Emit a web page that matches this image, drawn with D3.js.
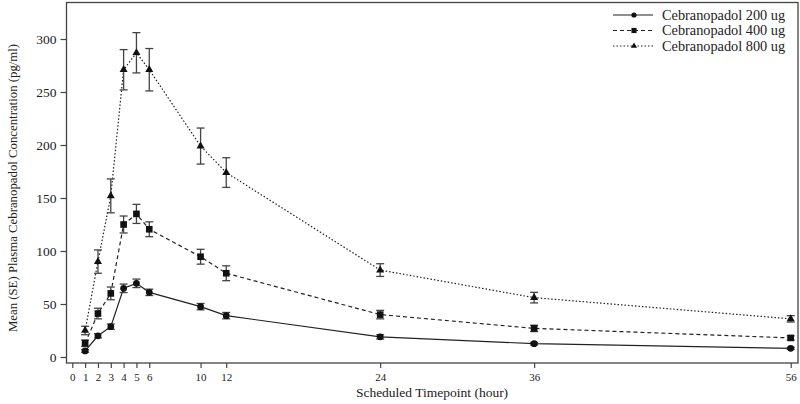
<!DOCTYPE html>
<html><head><meta charset="utf-8">
<script src="https://cdn.jsdelivr.net/npm/d3@7/dist/d3.min.js"></script>
<style>body{margin:0;background:#fff}svg{display:block}text{font-family:"Liberation Serif","Times New Roman",serif;fill:#222}</style>
</head><body><svg id="c" width="800" height="404"></svg>
<script>
const timepoints = [1, 2, 3, 4, 5, 6, 10, 12, 24, 36, 56];
const mean200 = [5.7, 20, 28.6, 64.8, 69.5, 61, 47.5, 39, 19, 12.6, 8.2];
const se200   = [1.2, 2, 2.5, 4, 4, 3, 3, 3, 2, 1.2, 1];
const mean400 = [13, 41, 60, 125, 135, 120.5, 94.6, 79, 40, 27, 18];
const se400   = [3, 5, 6, 8, 9, 7, 7, 7, 4, 3, 2];
const mean800 = [25, 90, 152, 271, 287, 271, 199, 174, 82, 56, 36];
const se800   = [4, 11, 16, 19, 19, 20, 17, 14, 6, 5, 3];
const seriesNames = ["Cebranopadol 200 ug", "Cebranopadol 400 ug", "Cebranopadol 800 ug"];
const xTicks = [0, 1, 2, 3, 4, 5, 6, 10, 12, 24, 36, 56];
const yTicks = [0, 50, 100, 150, 200, 250, 300];

const series = [
  {name: seriesNames[0], mean: mean200, se: se200, dash: null, sym: d3.symbolCircle, size: 36},
  {name: seriesNames[1], mean: mean400, se: se400, dash: "4,3", sym: d3.symbolSquare, size: 44},
  {name: seriesNames[2], mean: mean800, se: se800, dash: "1.5,2", sym: d3.symbolTriangle, size: 28}
];

const svg = d3.select("#c");
const frame = {l: 66.5, r: 798, t: 2.5, b: 363};
const x = d3.scaleLinear().domain([0, 56]).range([72.3, 790.7]);
const y = d3.scaleLinear().domain([0, 300]).range([357, 39]);

// frame
svg.append("rect").attr("x", frame.l).attr("y", frame.t)
  .attr("width", frame.r - frame.l).attr("height", frame.b - frame.t)
  .attr("fill", "none").attr("stroke", "#444").attr("stroke-width", 1.3);

// y axis
const ya = svg.append("g").attr("transform", `translate(${frame.l},0)`)
  .call(d3.axisLeft(y).tickValues(yTicks).tickSize(6).tickPadding(4));
ya.select(".domain").remove();
ya.selectAll("line").attr("stroke", "#444").attr("stroke-width", 1.2);
ya.selectAll("text").style("font-size", "13.5px").attr("fill", "#222");

// x axis
const xa = svg.append("g").attr("transform", `translate(0,${frame.b})`)
  .call(d3.axisBottom(x).tickValues(xTicks).tickSize(5).tickPadding(5));
xa.select(".domain").remove();
xa.selectAll("line").attr("stroke", "#444").attr("stroke-width", 1.2);
xa.selectAll("text").style("font-size", "11px").attr("fill", "#222");

// axis titles
svg.append("text").attr("x", 432).attr("y", 397).attr("text-anchor", "middle")
  .style("font-size", "13.5px").text("Scheduled Timepoint (hour)");
svg.append("text").attr("transform", "translate(17,188) rotate(-90)").attr("text-anchor", "middle")
  .style("font-size", "12.8px").text("Mean (SE) Plasma Cebranopadol Concentration (pg/ml)");

const line = d3.line().x(d => x(d.t)).y(d => y(d.m));
series.forEach(s => {
  const pts = timepoints.map((t, i) => ({t, m: s.mean[i], e: s.se[i]}));
  const g = svg.append("g");
  g.append("path").datum(pts).attr("d", line).attr("fill", "none")
    .attr("stroke", "#222").attr("stroke-width", 1.2)
    .attr("stroke-dasharray", s.dash);
  const eb = g.selectAll(".eb").data(pts).enter().append("g").attr("stroke", "#444").attr("stroke-width", 1.3);
  eb.append("line").attr("x1", d => x(d.t)).attr("x2", d => x(d.t))
    .attr("y1", d => y(d.m - d.e)).attr("y2", d => y(d.m + d.e));
  eb.append("line").attr("x1", d => x(d.t) - 4).attr("x2", d => x(d.t) + 4)
    .attr("y1", d => y(d.m - d.e)).attr("y2", d => y(d.m - d.e));
  eb.append("line").attr("x1", d => x(d.t) - 4).attr("x2", d => x(d.t) + 4)
    .attr("y1", d => y(d.m + d.e)).attr("y2", d => y(d.m + d.e));
  g.selectAll(".pt").data(pts).enter().append("path")
    .attr("d", d3.symbol().type(s.sym).size(s.size))
    .attr("transform", d => `translate(${x(d.t)},${y(d.m)})`).attr("fill", "#111");
});

// legend
const lg = svg.append("g");
series.forEach((s, i) => {
  const yy = 15 + i * 15.5;
  lg.append("line").attr("x1", 613).attr("x2", 653).attr("y1", yy).attr("y2", yy)
    .attr("stroke", "#222").attr("stroke-width", 1.2).attr("stroke-dasharray", s.dash);
  lg.append("path").attr("d", d3.symbol().type(s.sym).size(s.size * 0.6))
    .attr("transform", `translate(634,${yy})`).attr("fill", "#111");
  lg.append("text").attr("x", 662).attr("y", yy + 4.5).style("font-size", "14.3px").text(s.name);
});
</script></body></html>
